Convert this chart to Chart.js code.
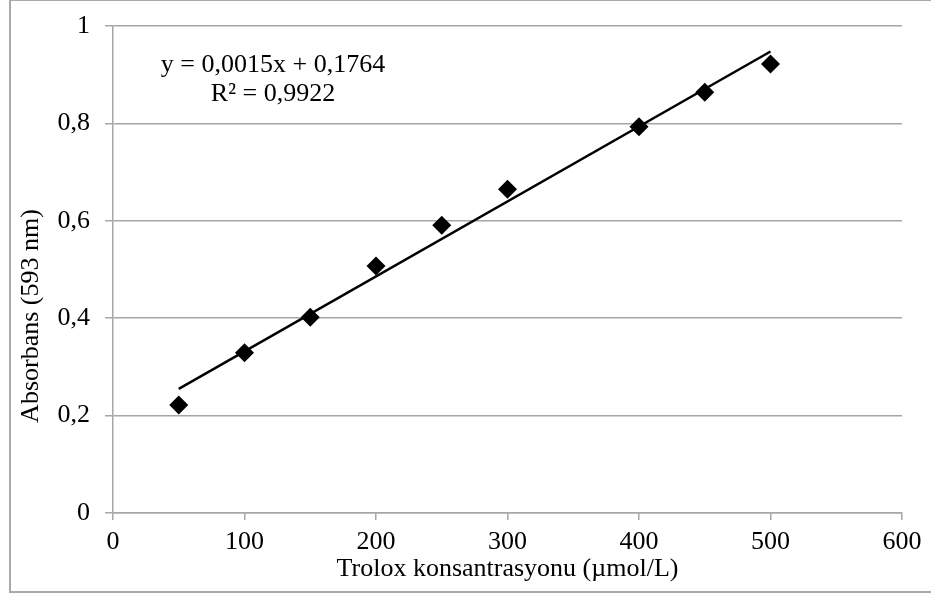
<!DOCTYPE html>
<html>
<head>
<meta charset="utf-8">
<script src="https://cdn.jsdelivr.net/npm/chart.js@4"></script>
<style>
  body { margin: 0; background: #fff; }
  #wrap { position: relative; width: 931px; height: 596px; overflow: hidden; }
  #frame { position: absolute; left: 9px; top: -1px; width: 1000px; height: 590px; border: 2px solid #a9a9a9; }
  #chart { position: absolute; left: 0; top: 0; }
</style>
</head>
<body>
<div id="wrap">
  <div id="frame"></div>
  <canvas id="chart" width="931" height="596"></canvas>
</div>
<script>
// data
const concentrations = [50, 100, 150, 200, 250, 300, 400, 450, 500];
const absorbances = [0.222, 0.329, 0.402, 0.507, 0.591, 0.665, 0.793, 0.864, 0.922];
const xTicks = [0, 100, 200, 300, 400, 500, 600];
const yTicks = [0, 0.2, 0.4, 0.6, 0.8, 1];
const yTickLabels = ["0", "0,2", "0,4", "0,6", "0,8", "1"];
const equationLines = ["y = 0,0015x + 0,1764", "R² = 0,9922"];
const xTitle = "Trolox konsantrasyonu (µmol/L)";
const yTitle = "Absorbans (593 nm)";

const serif = "'Liberation Serif', 'Times New Roman', serif";
const gridGray = "#a6a6a6";

// least squares trendline, like the Excel one
function linearFit(xs, ys) {
  const n = xs.length;
  const mx = xs.reduce((a, b) => a + b, 0) / n;
  const my = ys.reduce((a, b) => a + b, 0) / n;
  let sxy = 0, sxx = 0;
  for (let i = 0; i < n; i++) {
    sxy += (xs[i] - mx) * (ys[i] - my);
    sxx += (xs[i] - mx) * (xs[i] - mx);
  }
  const slope = sxy / sxx;
  return { slope: slope, intercept: my - slope * mx };
}

const fit = linearFit(concentrations, absorbances);
const xFirst = concentrations[0];
const xLast = concentrations[concentrations.length - 1];
const trendPoints = [
  { x: xFirst, y: fit.slope * xFirst + fit.intercept },
  { x: xLast, y: fit.slope * xLast + fit.intercept },
];

const textPlugin = {
  id: "textPlugin",
  afterDraw(chart) {
    const ctx = chart.ctx;
    ctx.save();
    ctx.fillStyle = "#000";
    ctx.font = "26px " + serif;
    ctx.textAlign = "center";
    ctx.textBaseline = "middle";
    // trendline label
    ctx.fillText(equationLines[0], 273, 65);
    ctx.fillText(equationLines[1], 273, 94);
    // y axis title
    ctx.translate(31, 316);
    ctx.rotate(-Math.PI / 2);
    ctx.fillText(yTitle, 0, 0);
    ctx.restore();
  },
};

new Chart(document.getElementById("chart"), {
  type: "scatter",
  data: {
    datasets: [
      {
        label: "Absorbans",
        data: concentrations.map((c, i) => ({ x: c, y: absorbances[i] })),
        pointStyle: "rectRot",
        pointRadius: 9.5,
        pointHoverRadius: 9.5,
        backgroundColor: "#000",
        borderColor: "#000",
        borderWidth: 0,
        order: 2,
      },
      {
        label: "Trend",
        type: "line",
        data: trendPoints,
        borderColor: "#000",
        borderWidth: 2.5,
        pointRadius: 0,
        fill: false,
        order: 1,
      },
    ],
  },
  options: {
    responsive: false,
    animation: false,
    events: [],
    layout: { padding: { left: 0, right: 29, top: 26, bottom: 0 } },
    plugins: {
      legend: { display: false },
      tooltip: { enabled: false },
    },
    scales: {
      x: {
        type: "linear",
        min: xTicks[0],
        max: xTicks[xTicks.length - 1],
        afterBuildTicks: (scale) => {
          scale.ticks = xTicks.map((v) => ({ value: v }));
        },
        afterFit: (scale) => {
          scale.height = 83;
          scale.paddingLeft = 0;
          scale.paddingRight = 0;
        },
        grid: {
          drawOnChartArea: false,
          drawTicks: true,
          tickLength: 7,
          color: gridGray,
          lineWidth: 1.5,
        },
        border: { display: true, color: gridGray, width: 1.5 },
        ticks: {
          color: "#000",
          padding: 7,
          maxRotation: 0,
          font: { family: serif, size: 26 },
        },
        title: {
          display: true,
          text: xTitle,
          color: "#000",
          font: { family: serif, size: 26, lineHeight: 1.2 },
          padding: { top: 0, bottom: 11 },
        },
      },
      y: {
        type: "linear",
        min: yTicks[0],
        max: yTicks[yTicks.length - 1],
        afterBuildTicks: (scale) => {
          scale.ticks = yTicks.map((v) => ({ value: v }));
        },
        afterFit: (scale) => {
          scale.width = 113;
          scale.paddingTop = 0;
          scale.paddingBottom = 0;
        },
        grid: {
          drawTicks: true,
          tickLength: 8,
          color: gridGray,
          lineWidth: 1.5,
        },
        border: { display: true, color: gridGray, width: 1.5 },
        ticks: {
          color: "#000",
          padding: 15,
          font: { family: serif, size: 26 },
          callback: (value) => {
            const i = yTicks.findIndex((t) => Math.abs(t - value) < 1e-9);
            return i >= 0 ? yTickLabels[i] : "";
          },
        },
      },
    },
  },
  plugins: [textPlugin],
});
</script>
</body>
</html>
